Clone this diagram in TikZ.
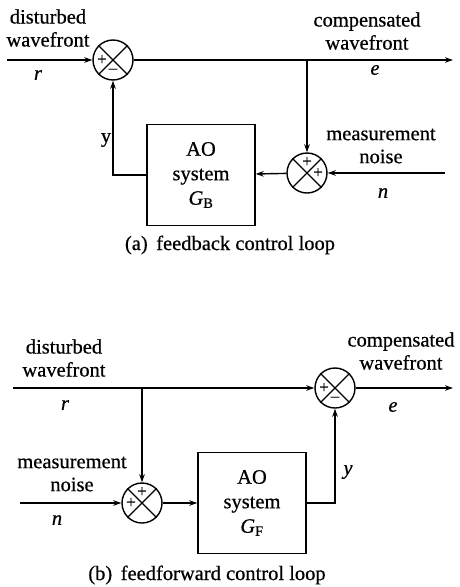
\documentclass[tikz,border=0pt]{standalone}
\usepackage{fontspec}
\setmainfont{Liberation Serif}[BoldFont=Liberation Serif,BoldFeatures={FakeBold=0.6},
  BoldItalicFont=Liberation Serif Italic,BoldItalicFeatures={FakeBold=0.6}]
\usetikzlibrary{arrows.meta,calc,positioning}

\tikzset{
  sumnode/.style={draw,circle,minimum size=40pt,inner sep=0pt,line width=1.4pt},
  aobox/.style={draw,line width=1.4pt,align=center,inner sep=0pt,
    minimum width=108pt,minimum height=101pt,font=\fontsize{20.5}{24.5}\selectfont\bfseries},
  sig/.style={line width=1.4pt},
  tip/.style={-{Stealth[length=8pt,width=5.5pt]}},
  lbl/.style={align=center,inner sep=0pt,font=\fontsize{20.5}{23}\selectfont\bfseries},
  sgn/.style={inner sep=0pt,font=\fontsize{17}{17}\selectfont\bfseries},
}
\newcommand{\crossit}[1]{%
  \draw[sig] (#1.45) -- (#1.225) (#1.135) -- (#1.315);}

\begin{document}
\begin{tikzpicture}[x=1pt,y=-1pt]
  \useasboundingbox (0,0) rectangle (459,587);
  % (a) feedback loop
  \node[sumnode] (s1) at (113,60) {};
  \node[sumnode] (s2) at (307,173) {};
  \crossit{s1}
  \crossit{s2}
  \node[sgn] at ($(s1)+(-11,0)$) {+};
  \node[sgn] at ($(s1)+(0,11)$) {\textbf{\char"2013}};
  \node[sgn] at ($(s2)+(0,-11)$) {+};
  \node[sgn] at ($(s2)+(11,0)$) {+};
  \node[aobox] (boxa) at (201,175) {AO\\system\\\textit{G}\textsubscript{B}};
  \coordinate (rin) at (7,60);
  \coordinate (eout) at (453,60);
  \coordinate (nin) at (445,173);
  \coordinate (ja) at (s2 |- s1);
  \draw[sig,tip] (rin) -- (s1);
  \draw[sig,tip] (s1) -- (eout);
  \draw[sig,tip] (ja) -- (s2);
  \draw[sig,tip] (nin) -- (s2);
  \draw[sig,tip] (s2) -- (boxa);
  \draw[sig,tip] (boxa.west) -| (s1);
  \node[lbl] (dista) at (48,28) {disturbed\\wavefront};
  \node[lbl] (ra) at (38,75) {\textit{r}};
  \node[lbl] (compa) at (367,31) {compensated\\wavefront};
  \node[lbl] (ea) at (375,70) {\textit{e}};
  \node[lbl] (ya) at (106,140) {y};
  \node[lbl] (measa) at (381,146) {measurement\\noise};
  \node[lbl] (na) at (383,193) {\textit{n}};
  \node[lbl] (capa) at (230,245) {(a)\, feedback control loop};
  % (b) feedforward loop
  \node[sumnode] (s3) at (335,388) {};
  \node[sumnode] (s4) at (142,503) {};
  \crossit{s3}
  \crossit{s4}
  \node[sgn] at ($(s3)+(-11,0)$) {+};
  \node[sgn] at ($(s3)+(0,11)$) {\textbf{\char"2013}};
  \node[sgn] at ($(s4)+(0,-11)$) {+};
  \node[sgn] at ($(s4)+(-11,0)$) {+};
  \node[aobox] (boxb) at (252,503) {AO\\system\\\textit{G}\textsubscript{F}};
  \coordinate (rinb) at (13,388);
  \coordinate (eoutb) at (453,388);
  \coordinate (ninb) at (20,503);
  \coordinate (jb) at (s4 |- s3);
  \draw[sig,tip] (rinb) -- (s3);
  \draw[sig,tip] (s3) -- (eoutb);
  \draw[sig,tip] (jb) -- (s4);
  \draw[sig,tip] (ninb) -- (s4);
  \draw[sig,tip] (s4) -- (boxb);
  \draw[sig,tip] (boxb.east) -| (s3);
  \node[lbl] (distb) at (64,358) {disturbed\\wavefront};
  \node[lbl] (rb) at (65,405) {\textit{r}};
  \node[lbl] (compb) at (401,351) {compensated\\wavefront};
  \node[lbl] (eb) at (393,407) {\textit{e}};
  \node[lbl] (yb) at (348,472) {\textit{y}};
  \node[lbl] (measb) at (72,474) {measurement\\noise};
  \node[lbl] (nb) at (57,520) {\textit{n}};
  \node[lbl] (capb) at (207,575) {(b)\, feedforward control loop};
\end{tikzpicture}
\end{document}
